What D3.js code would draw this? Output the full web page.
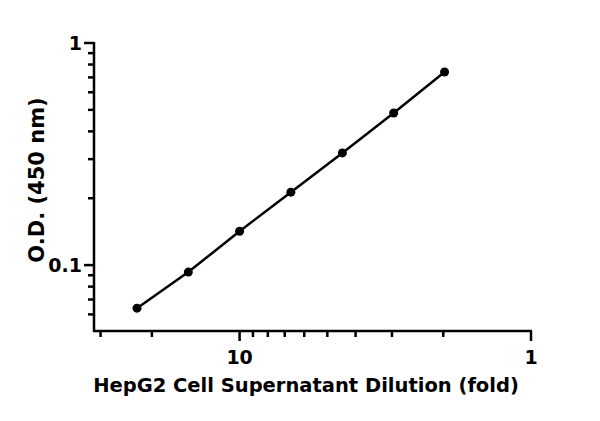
<!DOCTYPE html>
<html>
<head>
<meta charset="utf-8">
<script src="https://cdn.jsdelivr.net/npm/d3@7"></script>
<style>
  body { margin: 0; background: #fff; }
  text { font-family: "DejaVu Sans", sans-serif; font-weight: bold; }
</style>
</head>
<body>
<div class="chart"></div>
<script>
var dilution = [22.5, 15, 10, 6.67, 4.44, 2.96, 1.98];
var od = [0.064, 0.093, 0.142, 0.213, 0.32, 0.484, 0.74];
var xTickLabels = [10, 1];
var yTickLabels = [1, 0.1];

var svg = d3.select('.chart')
  .append('svg')
  .attr('width', 600)
  .attr('height', 421);

// reversed log x axis
var xScale = d3.scaleLog().domain([31.6, 1]).range([94, 531]);
var yScale = d3.scaleLog().domain([0.0505, 1]).range([331, 43]);

var xMinor = [30, 20, 9, 8, 7, 6, 5, 4, 3, 2];
var yMinor = [0.06, 0.07, 0.08, 0.09, 0.2, 0.3, 0.4, 0.5, 0.6, 0.7, 0.8, 0.9];

// x axis
var xg = svg.append('g').attr('transform', 'translate(0,331)');
xg.append('line').attr('x1', 93).attr('x2', 532).attr('stroke', '#000').attr('stroke-width', 2.5);
xg.selectAll('.minor').data(xMinor).enter().append('line')
  .attr('x1', xScale).attr('x2', xScale).attr('y1', 0).attr('y2', 6)
  .attr('stroke', '#000').attr('stroke-width', 2.5);
xg.selectAll('.major').data(xTickLabels).enter().append('line')
  .attr('x1', xScale).attr('x2', xScale).attr('y1', 0).attr('y2', 10)
  .attr('stroke', '#000').attr('stroke-width', 2.5);
xg.selectAll('text').data(xTickLabels).enter().append('text')
  .attr('x', xScale).attr('y', 33).attr('text-anchor', 'middle')
  .attr('font-size', 19).text(function (d) { return d; });

// y axis
var yg = svg.append('g').attr('transform', 'translate(94,0)');
yg.append('line').attr('y1', 42).attr('y2', 332).attr('stroke', '#000').attr('stroke-width', 2.5);
yg.selectAll('.minor').data(yMinor).enter().append('line')
  .attr('y1', yScale).attr('y2', yScale).attr('x1', 0).attr('x2', -6)
  .attr('stroke', '#000').attr('stroke-width', 2.5);
yg.selectAll('.major').data(yTickLabels).enter().append('line')
  .attr('y1', yScale).attr('y2', yScale).attr('x1', 0).attr('x2', -10)
  .attr('stroke', '#000').attr('stroke-width', 2.5);
yg.selectAll('text').data(yTickLabels).enter().append('text')
  .attr('x', -12).attr('y', function (d) { return yScale(d) + 7; })
  .attr('text-anchor', 'end').attr('font-size', 19).text(function (d) { return d; });

// axis titles
svg.append('text').attr('x', 306).attr('y', 392).attr('text-anchor', 'middle')
  .attr('font-size', 19.5).text('HepG2 Cell Supernatant Dilution (fold)');
svg.append('text').attr('transform', 'translate(44,180) rotate(-90)')
  .attr('text-anchor', 'middle').attr('font-size', 21).text('O.D. (450 nm)');

// line and points
var pts = dilution.map(function (d, i) { return [d, od[i]]; });
svg.append('path').datum(pts)
  .attr('d', d3.line().x(function (d) { return xScale(d[0]); }).y(function (d) { return yScale(d[1]); }))
  .attr('fill', 'none').attr('stroke', '#000').attr('stroke-width', 2.5);
svg.selectAll('circle').data(pts).enter().append('circle')
  .attr('cx', function (d) { return xScale(d[0]); })
  .attr('cy', function (d) { return yScale(d[1]); })
  .attr('r', 4.5).attr('fill', '#000');
</script>
</body>
</html>
